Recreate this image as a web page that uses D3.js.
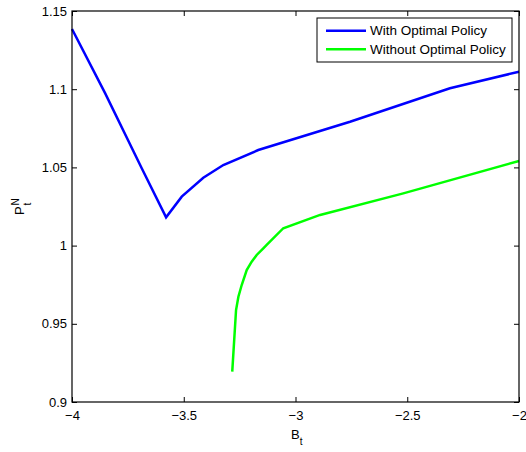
<!DOCTYPE html>
<html><head><meta charset="utf-8">
<script src="https://cdn.jsdelivr.net/npm/d3@7"></script>
<style>
body{margin:0;background:#fff;}
svg{display:block;font-family:"Liberation Sans",Arial,Helvetica,sans-serif;}
</style></head>
<body>
<svg id="chart" width="526" height="452"></svg>
<script>
const xTicks = [-4, -3.5, -3, -2.5, -2];
const xTickLabels = ["\u22124", "\u22123.5", "\u22123", "\u22122.5", "\u22122"];
const yTicks = [0.9, 0.95, 1, 1.05, 1.1, 1.15];
const yTickLabels = ["0.9", "0.95", "1", "1.05", "1.1", "1.15"];
const seriesNames = ["With Optimal Policy", "Without Optimal Policy"];
const withX = [-4, -3.852, -3.688, -3.579, -3.509, -3.4125, -3.323, -3.1665, -2.756, -2.309, -2];
const withY = [1.1385, 1.0975, 1.0495, 1.0181, 1.0313, 1.0434, 1.0515, 1.0611, 1.0792, 1.1006, 1.1112];
const withoutX = [-3.283, -3.266, -3.2555, -3.2407, -3.2183, -3.196, -3.1736, -3.144, -3.1289, -3.0546, -2.890, -2.5177, -2];
const withoutY = [0.9194, 0.9588, 0.9673, 0.9748, 0.9844, 0.9897, 0.994, 0.9983, 1.0004, 1.0111, 1.0196, 1.0334, 1.0541];

const svg = d3.select("#chart");
const L = 72, R = 519, T = 11, B = 402;
const x = d3.scaleLinear().domain([-4, -2]).range([L, R]);
const y = d3.scaleLinear().domain([0.9, 1.15]).range([B, T]);
const fs = 13;

// data lines
const line = d3.line().x(d => x(d[0])).y(d => y(d[1]));
const series = [
  {pts: d3.zip(withX, withY), color: "#0000ff"},
  {pts: d3.zip(withoutX, withoutY), color: "#00ff00"}
];
series.forEach(s => {
  svg.append("path").attr("d", line(s.pts)).attr("fill", "none")
    .attr("stroke", s.color).attr("stroke-width", 2.5).attr("stroke-linejoin", "miter");
});

// axes (ticks inward)
const tickLen = 5;
const xBottom = d3.axisBottom(x).tickValues(xTicks).tickSize(-tickLen).tickPadding(9)
  .tickFormat((d, i) => xTickLabels[i]);
const gxb = svg.append("g").attr("transform", `translate(0,${B})`).call(xBottom);
const xTop = d3.axisTop(x).tickValues(xTicks).tickSize(-tickLen).tickFormat("");
const gxt = svg.append("g").attr("transform", `translate(0,${T})`).call(xTop);
const yLeft = d3.axisLeft(y).tickValues(yTicks).tickSize(-tickLen).tickPadding(5)
  .tickFormat((d, i) => yTickLabels[i]);
const gyl = svg.append("g").attr("transform", `translate(${L},0)`).call(yLeft);
const yRight = d3.axisRight(y).tickValues(yTicks).tickSize(-tickLen).tickFormat("");
const gyr = svg.append("g").attr("transform", `translate(${R},0)`).call(yRight);
[gxb, gxt, gyl, gyr].forEach(g => {
  g.select(".domain").remove();
  g.selectAll("line").attr("stroke", "#000").attr("stroke-width", 1);
  g.selectAll("text").attr("fill", "#000").style("font-size", fs + "px")
    .style("font-family", '"Liberation Sans",Arial,sans-serif');
});
svg.append("rect").attr("x", L).attr("y", T).attr("width", R - L).attr("height", B - T)
  .attr("fill", "none").attr("stroke", "#000").attr("stroke-width", 1.2);

// axis labels
const xl = svg.append("text").attr("x", 291).attr("y", 439).style("font-size", fs + "px");
xl.append("tspan").text("B");
xl.append("tspan").attr("dy", 6).style("font-size", "10px").text("t");

const yl = svg.append("g").attr("transform", "translate(24,215) rotate(-90)");
yl.append("text").attr("x", 0).attr("y", 0).style("font-size", fs + "px").text("P");
yl.append("text").attr("x", 9.5).attr("y", -5).style("font-size", "10px").text("N");
yl.append("text").attr("x", 9.5).attr("y", 7).style("font-size", "10px").text("t");

// legend
const lg = svg.append("g");
lg.append("rect").attr("x", 317).attr("y", 18).attr("width", 195).attr("height", 44)
  .attr("fill", "#fff").attr("stroke", "#000").attr("stroke-width", 1);
seriesNames.forEach((name, i) => {
  const yy = 30.7 + i * 18.6;
  lg.append("line").attr("x1", 326).attr("x2", 366).attr("y1", yy).attr("y2", yy)
    .attr("stroke", series[i].color).attr("stroke-width", 2.5);
  lg.append("text").attr("x", 370).attr("y", yy + 4.6).style("font-size", "13.5px").text(name);
});
</script>
</body></html>
